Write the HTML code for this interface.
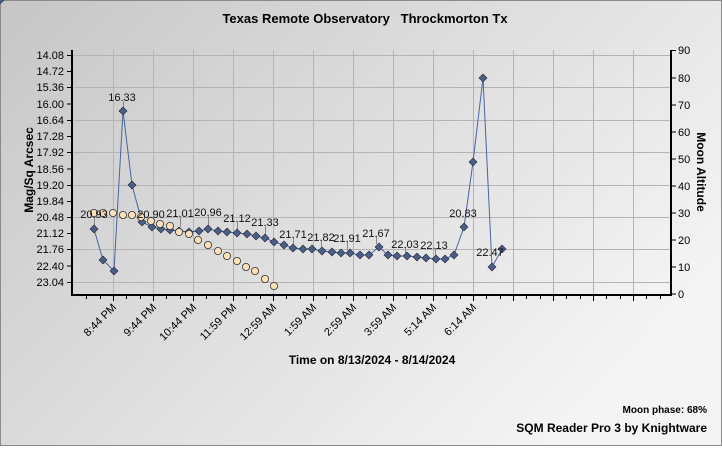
<!DOCTYPE html>
<html><head><meta charset="utf-8"><style>
html,body{margin:0;padding:0;}
body{width:722px;height:446px;overflow:hidden;font-family:"Liberation Sans",sans-serif;}
</style></head><body>
<svg width="722" height="446" xmlns="http://www.w3.org/2000/svg" font-family="Liberation Sans, sans-serif">
<defs>
<linearGradient id="bg" x1="0" y1="0" x2="1" y2="0.6">
<stop offset="0" stop-color="#c6c6c6"/><stop offset="1" stop-color="#f4f4f4"/>
</linearGradient>
</defs>
<rect x="0" y="0" width="722" height="446" fill="url(#bg)"/>
<rect x="0.5" y="0.5" width="721" height="445" fill="none" stroke="#8a8a8a"/>
<text x="365" y="23" text-anchor="middle" font-size="13" font-weight="bold" style="white-space:pre">Texas Remote Observatory   Throckmorton Tx</text>
<g stroke="#b4b4b4" stroke-width="1">
<line x1="113.5" y1="50" x2="113.5" y2="295"/><line x1="153.5" y1="50" x2="153.5" y2="295"/>
<line x1="193.5" y1="50" x2="193.5" y2="295"/><line x1="233.5" y1="50" x2="233.5" y2="295"/>
<line x1="273.5" y1="50" x2="273.5" y2="295"/><line x1="313.5" y1="50" x2="313.5" y2="295"/>
<line x1="353.5" y1="50" x2="353.5" y2="295"/><line x1="393.5" y1="50" x2="393.5" y2="295"/>
<line x1="433.5" y1="50" x2="433.5" y2="295"/><line x1="473.5" y1="50" x2="473.5" y2="295"/>
<line x1="513.5" y1="50" x2="513.5" y2="295"/><line x1="553.5" y1="50" x2="553.5" y2="295"/>
<line x1="593.5" y1="50" x2="593.5" y2="295"/><line x1="633.5" y1="50" x2="633.5" y2="295"/>
<line x1="73" y1="55.5" x2="671" y2="55.5"/><line x1="73" y1="87.5" x2="671" y2="87.5"/>
<line x1="73" y1="120.5" x2="671" y2="120.5"/><line x1="73" y1="152.5" x2="671" y2="152.5"/>
<line x1="73" y1="185.5" x2="671" y2="185.5"/><line x1="73" y1="217.5" x2="671" y2="217.5"/>
<line x1="73" y1="249.5" x2="671" y2="249.5"/><line x1="73" y1="282.5" x2="671" y2="282.5"/>
</g>
<g stroke="#000" stroke-width="2">
<line x1="72" y1="50" x2="72" y2="296"/><line x1="671" y1="50" x2="671" y2="296"/><line x1="71" y1="295" x2="672" y2="295"/>
</g>
<g stroke="#000" stroke-width="1">
<path d="M67 55.5h5M67 71.5h5M67 87.5h5M67 104h5M67 120.5h5M67 136.5h5M67 152.5h5M67 169h5M67 185.5h5M67 201.5h5M67 217.5h5M67 233.5h5M67 249.5h5M67 266h5M67 282.5h5"/>
<path d="M671 50.5h5M671 78h5M671 105h5M671 132h5M671 159h5M671 186h5M671 213h5M671 240h5M671 267h5M671 294h5"/>
<path d="M86.5 295v4M100.5 295v4M113.5 295v6M126.5 295v4M140.5 295v4M153.5 295v6M166.5 295v4M180.5 295v4M193.5 295v6M206.5 295v4M220.5 295v4M233.5 295v6M246.5 295v4M260.5 295v4M273.5 295v6M286.5 295v4M300.5 295v4M313.5 295v6M326.5 295v4M340.5 295v4M353.5 295v6M366.5 295v4M380.5 295v4M393.5 295v6M406.5 295v4M420.5 295v4M433.5 295v6M446.5 295v4M460.5 295v4M473.5 295v6M486.5 295v4M500.5 295v4M513.5 295v6M526.5 295v4M540.5 295v4M553.5 295v6M566.5 295v4M580.5 295v4M593.5 295v6M606.5 295v4M620.5 295v4M633.5 295v6M646.5 295v4M660.5 295v4"/>
</g>
<g font-size="11" text-anchor="end">
<text x="64" y="59">14.08</text><text x="64" y="75">14.72</text><text x="64" y="91">15.36</text><text x="64" y="108">16.00</text><text x="64" y="124">16.64</text><text x="64" y="140">17.28</text><text x="64" y="156">17.92</text><text x="64" y="173">18.56</text><text x="64" y="189">19.20</text><text x="64" y="205">19.84</text><text x="64" y="221">20.48</text><text x="64" y="237">21.12</text><text x="64" y="253">21.76</text><text x="64" y="270">22.40</text><text x="64" y="286">23.04</text>
</g>
<g font-size="11">
<text x="678" y="54">90</text><text x="678" y="82">80</text><text x="678" y="109">70</text><text x="678" y="136">60</text><text x="678" y="163">50</text><text x="678" y="190">40</text><text x="678" y="217">30</text><text x="678" y="244">20</text><text x="678" y="271">10</text><text x="678" y="298">0</text>
</g>
<text transform="translate(33,170) rotate(-90)" text-anchor="middle" font-size="12" font-weight="bold">Mag/Sq Arcsec</text>
<text transform="translate(697,172) rotate(90)" text-anchor="middle" font-size="12" font-weight="bold">Moon Altitude</text>
<g font-size="11" text-anchor="end">
<text transform="translate(117,308) rotate(-45)">8:44 PM</text>
<text transform="translate(157,308) rotate(-45)">9:44 PM</text>
<text transform="translate(197,308) rotate(-45)">10:44 PM</text>
<text transform="translate(237,308) rotate(-45)">11:59 PM</text>
<text transform="translate(277,308) rotate(-45)">12:59 AM</text>
<text transform="translate(317,308) rotate(-45)">1:59 AM</text>
<text transform="translate(357,308) rotate(-45)">2:59 AM</text>
<text transform="translate(397,308) rotate(-45)">3:59 AM</text>
<text transform="translate(437,308) rotate(-45)">5:14 AM</text>
<text transform="translate(477,308) rotate(-45)">6:14 AM</text>
</g>
<text x="372" y="364" text-anchor="middle" font-size="12" font-weight="bold">Time on 8/13/2024 - 8/14/2024</text>
<text x="707" y="413" text-anchor="end" font-size="10" font-weight="bold">Moon phase: 68%</text>
<text x="707" y="432" text-anchor="end" font-size="12" font-weight="bold">SQM Reader Pro 3 by Knightware</text>
<polyline fill="none" stroke="#4a64a0" stroke-width="1" points="94,229 103,260 114,271 123,111 132,185 142,222 152,227 161,229 170,230 179,231 189,232 199,231 208,229 218,231 227,232 237,233 247,234 256,236 265,238 274,242 284,245 293,248 303,249 312,249 322,251 332,252 341,253 350,253 360,255 369,255 379,247 388,255 397,256 407,256 417,257 426,258 436,259 445,259 454,255 464,227 473,162 483,78 492,267 502,249"/>
<g stroke="#888" stroke-width="1">
<path d="M94.5 218v8M123.5 101v7M151.5 218v6M180.5 217v10M208.5 216v10M237.5 222v8M265.5 226v9M293.5 237v8M321.5 240v7M347.5 241v9M376.5 236v8M405.5 247v6M435.5 248v8"/>
</g>
<g id="d">
<path d="M0,-4 L4,0 L0,4 L-4,0Z" fill="#4a5f88" stroke="#223" stroke-width="0.6"/>
</g>
<g>
<use href="#d" x="94" y="229"/><use href="#d" x="103" y="260"/><use href="#d" x="114" y="271"/><use href="#d" x="123" y="111"/><use href="#d" x="132" y="185"/><use href="#d" x="142" y="222"/><use href="#d" x="152" y="227"/><use href="#d" x="161" y="229"/><use href="#d" x="170" y="230"/><use href="#d" x="179" y="231"/><use href="#d" x="189" y="232"/><use href="#d" x="199" y="231"/><use href="#d" x="208" y="229"/><use href="#d" x="218" y="231"/><use href="#d" x="227" y="232"/><use href="#d" x="237" y="233"/><use href="#d" x="247" y="234"/><use href="#d" x="256" y="236"/><use href="#d" x="265" y="238"/><use href="#d" x="274" y="242"/><use href="#d" x="284" y="245"/><use href="#d" x="293" y="248"/><use href="#d" x="303" y="249"/><use href="#d" x="312" y="249"/><use href="#d" x="322" y="251"/><use href="#d" x="332" y="252"/><use href="#d" x="341" y="253"/><use href="#d" x="350" y="253"/><use href="#d" x="360" y="255"/><use href="#d" x="369" y="255"/><use href="#d" x="379" y="247"/><use href="#d" x="388" y="255"/><use href="#d" x="397" y="256"/><use href="#d" x="407" y="256"/><use href="#d" x="417" y="257"/><use href="#d" x="426" y="258"/><use href="#d" x="436" y="259"/><use href="#d" x="445" y="259"/><use href="#d" x="454" y="255"/><use href="#d" x="464" y="227"/><use href="#d" x="473" y="162"/><use href="#d" x="483" y="78"/><use href="#d" x="492" y="267"/><use href="#d" x="502" y="249"/>
</g>
<g fill="#ffe0b8" stroke="#333" stroke-width="0.8">
<circle cx="94" cy="213" r="3.6"/><circle cx="103" cy="213" r="3.6"/><circle cx="113" cy="213" r="3.6"/><circle cx="123" cy="215" r="3.6"/><circle cx="132" cy="215" r="3.6"/><circle cx="141" cy="217" r="3.6"/><circle cx="151" cy="221" r="3.6"/><circle cx="160" cy="224" r="3.6"/><circle cx="170" cy="226" r="3.6"/><circle cx="179" cy="232" r="3.6"/><circle cx="189" cy="234" r="3.6"/><circle cx="198" cy="240" r="3.6"/><circle cx="208" cy="245" r="3.6"/><circle cx="218" cy="251" r="3.6"/><circle cx="227" cy="256" r="3.6"/><circle cx="237" cy="261" r="3.6"/><circle cx="246" cy="267" r="3.6"/><circle cx="255" cy="271" r="3.6"/><circle cx="265" cy="279" r="3.6"/><circle cx="274" cy="286" r="3.6"/>
</g>
<g font-size="11" text-anchor="middle" fill="#111">
<text x="94" y="218">20.93</text><text x="122" y="101">16.33</text><text x="151" y="218">20.90</text><text x="180" y="217">21.01</text><text x="208" y="216">20.96</text><text x="237" y="222">21.12</text><text x="265" y="226">21.33</text><text x="293" y="238">21.71</text><text x="321" y="241">21.82</text><text x="347" y="242">21.91</text><text x="376" y="237">21.67</text><text x="405" y="248">22.03</text><text x="434" y="249">22.13</text><text x="463" y="217">20.83</text><text x="490" y="256">22.47</text>
</g>
</svg>
</body></html>
